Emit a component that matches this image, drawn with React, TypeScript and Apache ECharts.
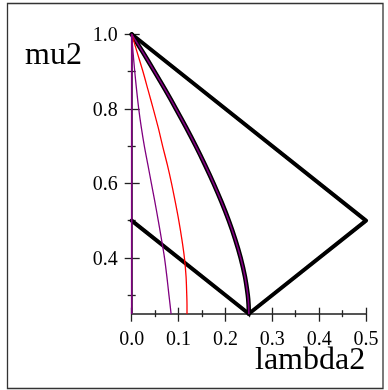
import React, { useEffect, useRef } from "react";
import * as echarts from "echarts";

// mu2 sample levels (vertical axis)
const MU = [1.0, 0.95, 0.9, 0.85, 0.8, 0.75, 0.7, 0.65, 0.6, 0.55, 0.5, 0.45, 0.4, 0.35, 0.3, 0.275, 0.25];
// lambda2 of the thick black boundary curve (with thin purple overlay)
const LAMBDA_BOUNDARY = [0, 0.0247, 0.0487, 0.072, 0.0944, 0.116, 0.1367, 0.1562, 0.1746, 0.1916, 0.2071, 0.2208, 0.2325, 0.2416, 0.2477, 0.2494, 0.25];
// lambda2 of the red curve
const LAMBDA_RED = [0, 0.012, 0.024, 0.035, 0.046, 0.0565, 0.066, 0.076, 0.085, 0.093, 0.1005, 0.107, 0.1125, 0.116, 0.1175, 0.118, 0.118];
// lambda2 of the thin purple curve
const LAMBDA_PURPLE = [0, 0.003, 0.0065, 0.0105, 0.015, 0.0205, 0.027, 0.0345, 0.042, 0.0495, 0.0567, 0.0635, 0.07, 0.075, 0.0795, 0.0818, 0.084];
// purple line on lambda2 = 0
const AXIS_LINE_LAMBDA = [0, 0];
const AXIS_LINE_MU = [1.0, 0.25];
// thick black polygon
const HULL_LAMBDA = [0, 0.5, 0.25, 0];
const HULL_MU = [1.0, 0.5, 0.25, 0.5];

const X_MAJOR = [0, 0.1, 0.2, 0.3, 0.4, 0.5];
const X_MINOR = [0.05, 0.15, 0.25, 0.35, 0.45];
const Y_MAJOR = [0.4, 0.6, 0.8, 1.0];
const Y_MINOR = [0.3, 0.5, 0.7, 0.9];

const FONT = "Liberation Serif";

export default function App() {
  const ref = useRef<HTMLDivElement>(null);
  useEffect(() => {
    if (!ref.current) return;
    const chart = echarts.init(ref.current, undefined, { renderer: "svg" });
    const pairs = (xs: number[], ys: number[]) => xs.map((x, i) => [x, ys[i]]);
    const tickStyle = { color: "#222", width: 1.3 };
    const xBase = (ticks: number[], inside: boolean, length: number, showLabel: boolean) => ({
      type: "value",
      min: 0,
      max: 0.5,
      position: "bottom",
      axisLine: { show: true, onZero: false, lineStyle: { color: "#555", width: 1.5 } },
      splitLine: { show: false },
      axisTick: { show: true, customValues: ticks, inside, length, lineStyle: tickStyle },
      axisLabel: {
        show: showLabel,
        customValues: X_MAJOR,
        formatter: (v: number) => v.toFixed(1),
        margin: 14,
        fontSize: 20,
        fontFamily: FONT,
        color: "#000",
      },
    });
    const yBase = (ticks: number[], inside: boolean, length: number, showLabel: boolean) => ({
      type: "value",
      min: 0.25,
      max: 1.0,
      position: "left",
      axisLine: { show: true, onZero: false, lineStyle: { color: "#555", width: 1.5 } },
      splitLine: { show: false },
      axisTick: { show: true, customValues: ticks, inside, length, lineStyle: tickStyle },
      axisLabel: {
        show: showLabel,
        customValues: Y_MAJOR,
        formatter: (v: number) => v.toFixed(1),
        margin: 14,
        fontSize: 20,
        fontFamily: FONT,
        color: "#000",
      },
    });
    const line = (data: number[][], color: string, width: number, z: number, smooth: number | boolean = false) => ({
      type: "line",
      data,
      showSymbol: false,
      symbol: "none",
      smooth,
      lineStyle: { color, width, cap: "round", join: "round" },
      z,
      xAxisIndex: 0,
      yAxisIndex: 0,
    });
    chart.setOption({
      animation: false,
      grid: { left: 131.7, right: 22, top: 34.3, bottom: 76.3, containLabel: false },
      xAxis: [
        xBase(X_MAJOR, false, 8, true),
        xBase(X_MAJOR, true, 6, false),
        xBase(X_MINOR, false, 3.5, false),
        xBase(X_MINOR, true, 3.5, false),
      ],
      yAxis: [
        yBase(Y_MAJOR, false, 7, true),
        yBase(Y_MAJOR, true, 8, false),
        yBase(Y_MINOR, false, 4, false),
        yBase(Y_MINOR, true, 4, false),
      ],
      graphic: [
        {
          type: "rect",
          shape: { x: 7.5, y: 3.5, width: 375.5, height: 385 },
          style: { fill: "none", stroke: "#333", lineWidth: 1.3 },
          silent: true,
        },
        {
          type: "text",
          x: 25,
          y: 53,
          style: { text: "mu2", font: `32px ${FONT}`, fill: "#000", verticalAlign: "middle", align: "left" },
        },
        {
          type: "text",
          x: 255,
          y: 358,
          style: { text: "lambda2", font: `32px ${FONT}`, fill: "#000", verticalAlign: "middle", align: "left" },
        },
      ],
      series: [
        line(pairs(HULL_LAMBDA, HULL_MU), "#000", 4, 3),
        line(pairs(LAMBDA_BOUNDARY, MU), "#000", 4.5, 3, 0.3),
        line(pairs(LAMBDA_BOUNDARY, MU), "#800080", 1.6, 4, 0.3),
        line(pairs(LAMBDA_RED, MU), "#ff0000", 1.3, 4, 0.3),
        line(pairs(LAMBDA_PURPLE, MU), "#800080", 1.3, 4, 0.3),
        line(pairs(AXIS_LINE_LAMBDA, AXIS_LINE_MU), "#800080", 1.6, 4),
      ],
    });
    return () => chart.dispose();
  }, []);
  return <div ref={ref} style={{ position: "fixed", left: 0, top: 0, width: 388, height: 390 }} />;
}
